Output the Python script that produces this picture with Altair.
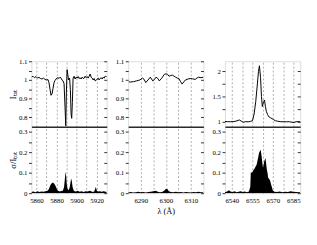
import altair as alt
import pandas as pd

FONT = "Liberation Serif"

# ---- Panel 1 (Na D region) ----
p1_top_x = [5855.0, 5856.5, 5858, 5859.5, 5861, 5862.5, 5864, 5865.5, 5867, 5868.5, 5870, 5871.5,
            5872.5, 5873.5, 5874.5, 5875.5, 5876.5, 5877.5, 5878.5, 5879.5, 5880.5, 5881.5, 5882.5,
            5883.5, 5884.5, 5885.5, 5886.5, 5887.5, 5888.5, 5889.2, 5889.8, 5890.5, 5891.2, 5892,
            5893, 5893.8, 5894.5, 5895.1, 5895.8, 5896.5, 5897.5, 5898.5, 5899.5, 5900.5, 5901.5,
            5902.5, 5903.5, 5904.5, 5905.5, 5906.5, 5907.5, 5908.5, 5909.5, 5910.5, 5911.5, 5912.5,
            5913.5, 5914.5, 5915.5, 5916.5, 5917.5, 5918.5, 5919.5, 5920.5, 5921.5, 5922.5, 5923.5,
            5924.5, 5925.5, 5926.5, 5927.5, 5928.5, 5930]
p1_top_y = [1.015, 1.02, 1.012, 1.018, 1.01, 1.014, 1.008, 1.005, 1.01, 1.003, 1.0, 1.002,
            0.985, 0.95, 0.918, 0.925, 0.955, 0.985, 0.998, 1.005, 1.01, 1.012, 1.008,
            1.015, 1.01, 1.0, 0.995, 0.98, 0.85, 0.755, 0.93, 1.055, 1.03, 1.0,
            1.01, 0.95, 0.82, 0.795, 0.88, 1.01, 1.02, 1.005, 1.015, 1.01, 1.018,
            1.008, 1.012, 1.005, 1.015, 1.008, 1.01, 1.02, 1.012, 1.018, 1.01, 1.02,
            1.032, 1.015, 1.01, 1.0, 1.008, 0.995, 0.998, 1.005, 1.01, 1.0, 1.008,
            1.012, 1.005, 1.015, 1.01, 1.02, 1.018]
p1_bot_x = [5855, 5857, 5859, 5861, 5863, 5865, 5867, 5869, 5871, 5872.5, 5873.5, 5874.5, 5875.5,
            5876.5, 5877.5, 5878.5, 5879.5, 5880.5, 5881.5, 5882.5, 5883.5, 5884.5, 5885.5, 5886.5,
            5887.5, 5888.3, 5889, 5889.7, 5890.3, 5891, 5892, 5893, 5893.8, 5894.5, 5895.2, 5896,
            5897, 5898, 5899.5, 5901, 5903, 5905, 5907, 5909, 5911, 5913, 5914.5, 5916, 5917.5,
            5918.5, 5919.2, 5920, 5921, 5923, 5925, 5927, 5930]
p1_bot_y = [0.006, 0.008, 0.005, 0.009, 0.006, 0.008, 0.007, 0.01, 0.012, 0.02, 0.035, 0.045, 0.05,
            0.052, 0.048, 0.04, 0.03, 0.018, 0.012, 0.01, 0.008, 0.012, 0.01, 0.015,
            0.03, 0.07, 0.105, 0.08, 0.04, 0.02, 0.015, 0.025, 0.05, 0.072, 0.06, 0.03,
            0.015, 0.01, 0.008, 0.012, 0.007, 0.009, 0.006, 0.01, 0.008, 0.012, 0.01, 0.006, 0.008,
            0.02, 0.031, 0.015, 0.008, 0.01, 0.007, 0.009, 0.006]

# ---- Panel 2 ([O I] 6300 region) ----
p2_top_x = [6285.2, 6286, 6287.1, 6288.3, 6289.6, 6290.7, 6291.3, 6292, 6292.9, 6293.8, 6294.8,
            6295.4, 6296.1, 6296.8, 6297.4, 6298.4, 6299.4, 6300.1, 6300.7, 6301.3, 6302, 6302.6,
            6303.3, 6303.9, 6304.6, 6305.2, 6305.9, 6306.5, 6307.2, 6307.8, 6308.8, 6309.7, 6310.7,
            6311.7, 6312.4, 6313, 6314, 6315]
p2_top_y = [0.99, 0.989, 0.991, 0.995, 1.0, 1.01, 1.004, 0.986, 1.0, 1.015, 0.995,
            1.002, 1.015, 1.008, 0.995, 1.01, 1.03, 1.033, 1.03, 1.02, 1.024, 1.026,
            1.02, 1.015, 1.01, 1.008, 0.99, 0.978, 0.99, 1.0, 1.005, 1.008, 1.006,
            1.003, 1.01, 1.015, 1.012, 1.015]
p2_bot_x = [6285, 6286, 6287, 6288, 6289, 6290, 6291, 6292, 6293, 6294, 6295, 6296, 6296.8, 6297.5,
            6298.5, 6299.3, 6300, 6300.6, 6301.2, 6302, 6303, 6304, 6305, 6306, 6307, 6308, 6309,
            6310, 6311, 6312, 6313, 6314, 6315]
p2_bot_y = [0.004, 0.006, 0.004, 0.005, 0.007, 0.005, 0.006, 0.004, 0.006, 0.007, 0.01, 0.012, 0.007,
            0.005, 0.006, 0.012, 0.02, 0.02, 0.01, 0.006, 0.005, 0.007, 0.005, 0.006, 0.004, 0.006,
            0.005, 0.004, 0.006, 0.005, 0.007, 0.005, 0.005]

# ---- Panel 3 (H alpha region) ----
p3_top_x = [6535, 6537, 6539, 6541, 6543, 6545.5, 6547, 6548.5, 6550, 6552, 6553.5, 6555.1, 6556.3,
            6557.5, 6558.7, 6559.5, 6560.2, 6561, 6561.7, 6562.3, 6563.1, 6563.9, 6564.6, 6565.3,
            6566.2, 6567, 6568.2, 6569.4, 6570.6, 6571.8, 6573.5, 6575.4, 6578, 6580, 6582, 6584,
            6585.5, 6587, 6590]
p3_top_y = [1.005, 1.0, 1.0, 1.002, 1.01, 1.035, 1.01, 0.99, 1.0, 0.998, 1.005, 1.02, 1.15,
            1.4, 1.75, 2.0, 2.11, 1.88, 1.5, 1.3, 1.38, 1.43, 1.3, 1.2,
            1.14, 1.1, 1.08, 1.06, 1.04, 1.02, 1.01, 1.0, 1.0, 0.998, 1.0, 0.99,
            0.985, 1.0, 1.0]
p3_bot_x = [6535, 6536.5, 6538, 6539, 6540.5, 6542, 6543.5, 6545, 6546.5, 6548, 6549.5, 6551, 6552.5,
            6553.5, 6553.9, 6554.8, 6555.6, 6556.5, 6557.5, 6558.2, 6558.7, 6559.3, 6559.9, 6560.5,
            6561.1, 6561.8, 6562.3, 6562.8, 6563.3, 6563.7, 6564.6, 6565.1, 6565.6, 6566.1, 6566.6,
            6567.5, 6568.1, 6568.7, 6569.3, 6569.9, 6571.1, 6573, 6575, 6577, 6579, 6581, 6583,
            6585, 6587, 6590]
p3_bot_y = [0.005, 0.008, 0.015, 0.008, 0.006, 0.009, 0.005, 0.007, 0.01, 0.006, 0.008, 0.005, 0.008,
            0.03, 0.103, 0.1, 0.111, 0.118, 0.132, 0.14, 0.156, 0.175, 0.197, 0.205,
            0.213, 0.181, 0.15, 0.124, 0.14, 0.156, 0.172, 0.145, 0.116, 0.1, 0.076,
            0.068, 0.06, 0.043, 0.03, 0.015, 0.007, 0.006, 0.008, 0.005, 0.007, 0.006, 0.01,
            0.007, 0.006, 0.005]

# axis ticks / grid positions and labels
ytop_std = [0.8, 0.85, 0.9, 0.95, 1.0, 1.05, 1.1]
ybot = [0, 0.05, 0.1, 0.15, 0.2, 0.25, 0.3]
ytop3 = [1.0, 1.25, 1.5, 1.75, 2.0]
g1 = [5860, 5870, 5880, 5890, 5900, 5910, 5920]
l1 = [5860, 5880, 5900, 5920]
g2 = [6290, 6295, 6300, 6305, 6310]
l2 = [6290, 6300, 6310]
g3 = [6540, 6547.5, 6555, 6562.5, 6570, 6577.5, 6585]
l3 = [6540, 6555, 6570, 6585]

W = 77
HT = 67
HB = 68
GRID = "#9a9a9a"


def panel(xs, ys, kind, xdom, ydom, xgrid, xlabels, yvals, ylabel_expr,
          bottom, ytitle, xtitle, height):
    df = pd.DataFrame({"x": xs, "y": ys})
    xaxis_kw = dict(values=xlabels, grid=False, ticks=False, format="d",
                    labelFont=FONT, labelFontSize=7, labelColor="black", labelPadding=4,
                    labels=bottom, labelOverlap=False, labelFlush=False)
    if bottom:
        xaxis_kw.update(domain=False)
    else:
        xaxis_kw.update(domain=True, domainColor="black", domainWidth=1.2, zindex=3)
    if bottom and xtitle:
        xaxis_kw.update(title=xtitle, titleFont=FONT, titleFontSize=8.5, titleFontWeight="normal",
                        titlePadding=3, titleColor="black")
    else:
        xaxis_kw.update(title=None)
    yaxis_kw = dict(values=yvals, labelExpr=ylabel_expr, format=".2~f", domain=False, grid=False,
                    tickSize=3, tickColor="#333", labelFont=FONT, labelFontSize=7,
                    labelColor="black", labelPadding=1.5, labelFlush=False,
                    labelOverlap=False)
    if ytitle:
        yaxis_kw.update(title=ytitle, titleFont=FONT, titleFontSize=9, titleFontWeight="normal",
                        titlePadding=1, titleColor="black")
    else:
        yaxis_kw.update(title=None)
    xs_ = alt.Scale(domain=xdom, nice=False, zero=False)
    ys_ = alt.Scale(domain=ydom, nice=False, zero=False)
    base = alt.Chart(df)
    if kind == "line":
        m = base.mark_line(color="black", strokeWidth=1, clip=True)
    else:
        m = base.mark_area(color="black", clip=True)
    main = m.encode(x=alt.X("x:Q", scale=xs_, axis=alt.Axis(**xaxis_kw)),
                    y=alt.Y("y:Q", scale=ys_, axis=alt.Axis(**yaxis_kw)))
    top_kw = dict(orient="top", values=xgrid, grid=True, gridDash=[2, 2], gridColor=GRID,
                  gridWidth=0.8, labels=False, ticks=False, title=None)
    if bottom:
        top_kw.update(domain=True, domainColor="black", domainWidth=1.2)
    else:
        top_kw.update(domain=False)
    aux = base.mark_point(opacity=0).encode(
        x=alt.X("x:Q", scale=xs_, axis=alt.Axis(**top_kw)),
        y=alt.Y("y:Q", scale=ys_, axis=alt.Axis(orient="right", values=yvals, labels=False,
                                                  domain=False, grid=False, tickSize=3,
                                                  tickColor="#333", offset=-3, title=None)))
    return alt.layer(aux, main).resolve_axis(x="independent", y="independent").properties(
        width=W, height=height)


ytop_expr = "abs(round(datum.value*100) % 10) == 0 ? datum.label : ''"
ybot_expr = "abs(round(datum.value*100) % 10) == 0 ? datum.label : ''"
ytop3_expr = "abs(round(datum.value*100) % 50) == 0 ? datum.label : ''"

YT = "Iₜₒₜ"
YB = "σ/Iₜₒₜ"
XT = "λ (Å)"

t1 = panel(p1_top_x, p1_top_y, "line", [5855, 5930], [0.75, 1.1], g1, l1, ytop_std,
           ytop_expr, False, YT, None, HT)
b1 = panel(p1_bot_x, p1_bot_y, "area", [5855, 5930], [0, 0.325], g1, l1, ybot,
           ybot_expr, True, YB, None, HB)
t2 = panel(p2_top_x, p2_top_y, "line", [6285, 6315], [0.75, 1.1], g2, l2, ytop_std,
           ytop_expr, False, None, None, HT)
b2 = panel(p2_bot_x, p2_bot_y, "area", [6285, 6315], [0, 0.325], g2, l2, ybot,
           ybot_expr, True, None, XT, HB)
t3 = panel(p3_top_x, p3_top_y, "line", [6535, 6590], [0.9, 2.2], g3, l3, ytop3,
           ytop3_expr, False, None, None, HT)
b3 = panel(p3_bot_x, p3_bot_y, "area", [6535, 6590], [0, 0.325], g3, l3, ybot,
           ybot_expr, True, None, None, HB)

chart = alt.ConcatChart(
    concat=[t1, t2, t3, b1, b2, b3], columns=3,
    spacing={"row": 0, "column": 22}, bounds="flush",
).properties(
    padding={"left": 0, "top": 47, "right": 5, "bottom": 5}
).configure_view(stroke="#888", strokeWidth=1.5).configure(background="white")

chart.save("out.html", embed_options={"renderer": "svg", "actions": False})
